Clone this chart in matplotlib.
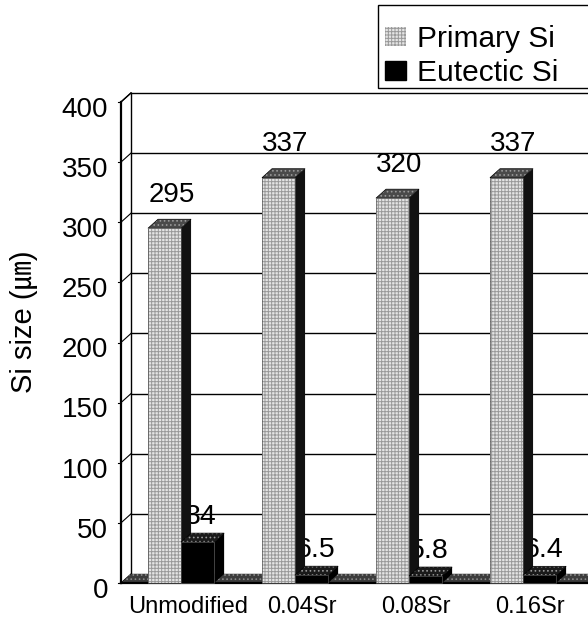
import matplotlib
matplotlib.use("Agg")
import matplotlib.pyplot as plt
from matplotlib.patches import Polygon, Patch, Rectangle

# Si particle size per Sr addition
categories = ["Unmodified", "0.04Sr", "0.08Sr", "0.16Sr"]
primary_si = [295, 337, 320, 337]
eutectic_si = [34, 6.5, 5.8, 6.4]
series_names = ["Primary Si", "Eutectic Si"]
y_ticks = [0, 50, 100, 150, 200, 250, 300, 350, 400]

plt.rcParams["font.family"] = ["Liberation Sans", "Noto Sans CJK KR"]
plt.rcParams["hatch.linewidth"] = 0.7

W = 0.29               # bar width (category units)
DX, DY = 0.088, 7.5    # depth offset of the 3d boxes
WALL_X = -0.527        # front edge of the left wall
XMAX = 3.7

fig = plt.figure(figsize=(5.88, 6.25), dpi=100)
ax = fig.add_axes([0, 0, 1, 1])
ax.set_xlim(-1.588, 3.570)
ax.set_ylim(-34.9, 484.8)
ax.axis("off")


def face(pts, color, z, hatch=None, hatch_color=None, edge="black", lw=0.6):
    ax.add_patch(Polygon(pts, closed=True, facecolor=color,
                         edgecolor=hatch_color or color, hatch=hatch,
                         lw=0, zorder=z))
    if edge is not None:
        ax.add_patch(Polygon(pts, closed=True, fill=False, edgecolor=edge,
                             lw=lw, zorder=z))


def box(x0, h, z, front, side, top, hatch=None, hatch_color=None):
    x1 = x0 + W
    face([(x1, 0), (x1 + DX, DY), (x1 + DX, h + DY), (x1, h)], side, z, edge=None)
    face([(x0, h), (x1, h), (x1 + DX, h + DY), (x0 + DX, h + DY)], top, z,
         hatch="....", hatch_color="#9a9a9a", edge="black", lw=0.5)
    face([(x0, 0), (x1, 0), (x1, h), (x0, h)], front, z,
         hatch=hatch, hatch_color=hatch_color, edge="#555555", lw=0.5)


# back wall grid and left wall
for v in y_ticks:
    ax.plot([WALL_X + DX, XMAX], [v + DY, v + DY], color="black", lw=1.0, zorder=1)
    ax.plot([WALL_X, WALL_X + DX], [v, v + DY], color="black", lw=0.8, zorder=1)
    ax.plot([WALL_X - 0.03, WALL_X], [v, v], color="black", lw=0.8, zorder=1)
    ax.text(-0.64, v - 6.5, str(v), ha="right", va="center", fontsize=20)
ax.plot([WALL_X + DX] * 2, [DY, 400 + DY], color="black", lw=1.0, zorder=1)
ax.plot([WALL_X] * 2, [0, 400], color="black", lw=1.6, zorder=1)
ax.plot([WALL_X, WALL_X + DX], [400, 400 + DY], color="black", lw=1.0, zorder=1)

# floor
face([(WALL_X, 0), (XMAX, 0), (XMAX, DY), (WALL_X + DX, DY)], "#3c3c3c", 1.5,
     hatch="....", hatch_color="#8a8a8a", edge=None)
ax.plot([WALL_X, XMAX], [0, 0], color="black", lw=1.6, zorder=1.6)

# bars and labels
for i, (p, e) in enumerate(zip(primary_si, eutectic_si)):
    box(i - W, p, 3, "#e4e4e4", "#111111", "#4a4a4a",
        hatch="+++++", hatch_color="#999999")
    box(i, e, 4, "#000000", "#000000", "#1a1a1a")
    ax.text(i - W / 2 + 0.06, p + 17, f"{p:g}", ha="center", va="bottom",
            fontsize=20, zorder=2)
    ax.text(i + W / 2 + 0.03, e + 10, f"{e:g}", ha="center", va="bottom",
            fontsize=20.5, zorder=2)
    ax.text(i + 0.06, -20, categories[i], ha="center", va="center", fontsize=17)

ax.text(-1.377, 217, "Si size (㎛)", rotation=90, ha="center", va="center",
        fontsize=21)

# legend box runs off the right edge; the entries sit low inside it
fig.add_artist(Rectangle((378 / 588, 1 - 88 / 625), 0.5, 83 / 625,
                         transform=fig.transFigure, facecolor="white",
                         edgecolor="black", lw=1.0, zorder=4))
handles = [
    Patch(facecolor="#e4e4e4", edgecolor="#999999", hatch="+++++", lw=0),
    Patch(facecolor="black", edgecolor="black"),
]
leg = fig.legend(handles, series_names, loc="upper left",
                 bbox_to_anchor=(378 / 588, 1 - 18 / 625),
                 borderaxespad=0, fontsize=21.5,
                 handlelength=0.68, handleheight=0.6, handletextpad=0.37,
                 borderpad=0.25, labelspacing=0.2, frameon=False)
leg.set_zorder(5)

fig.savefig("out.png", dpi=100)
